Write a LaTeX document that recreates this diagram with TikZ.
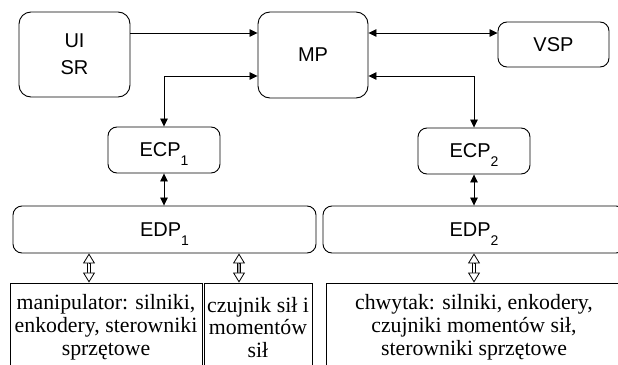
\documentclass[tikz,border=0pt]{standalone}
\usepackage{fontspec}
\setmainfont{Liberation Serif}
\setsansfont{Liberation Sans}
\usetikzlibrary{arrows.meta,calc}
\newcommand{\subidx}[1]{\smash{\raisebox{-9pt}{\fontsize{14}{14}\selectfont #1}}}
\begin{document}
\begin{tikzpicture}[x=1pt,y=-1pt,
  box/.style={draw, line width=0.9pt, rounded corners=9pt, inner sep=0pt,
    font=\sffamily\fontsize{20}{27}\selectfont, align=center},
  hwbox/.style={draw, line width=0.9pt, inner sep=0pt,
    font=\rmfamily\fontsize{21.8}{22.8}\selectfont, align=center},
  link/.style={line width=0.8pt, -{Triangle[length=8pt,width=7.5pt]}},
  blink/.style={line width=0.8pt, {Triangle[length=8pt,width=7.5pt]}-{Triangle[length=8pt,width=7.5pt]}},
  shaft/.style={double, double distance=2.8pt, line width=0.8pt, shorten <=9.5pt, shorten >=9.5pt},
  opentip/.style={line width=0.8pt, -{Triangle[open,length=10pt,width=12pt,fill=white]}}
]
\useasboundingbox (0,0) rectangle (618,364);
\clip (0,0) rectangle (618,364);

\node[box, rounded corners=12pt, minimum width=111pt, minimum height=85pt] (ui) at (74.5,54.5) {UI\\SR};
\node[box, rounded corners=12pt, minimum width=110pt, minimum height=86pt] (mp) at (313,55) {MP};
\node[box, minimum width=111pt, minimum height=45pt] (vsp) at (553.5,44.5) {VSP};
\node[box, minimum width=112pt, minimum height=46pt] (ecp1) at (164,150) {ECP\subidx{1}};
\node[box, minimum width=112pt, minimum height=46pt] (ecp2) at (474,151) {ECP\subidx{2}};
\node[box, minimum width=303pt, minimum height=47pt] (edp1) at (164.5,229.5) {EDP\subidx{1}};
\node[box, minimum width=302pt, minimum height=47pt] (edp2) at (474,229.5) {EDP\subidx{2}};

\node[hwbox, minimum width=192pt, minimum height=89pt] (man) at (106,327.5) {manipulator: silniki,\\enkodery, sterowniki\\sprzętowe};
\node[hwbox, minimum width=108pt, minimum height=89pt] (fts) at (258,327.5) {czujnik sił i\\momentów\\sił};
\node[hwbox, minimum width=296pt, minimum height=89pt] (grip) at (474,327.5) {chwytak: silniki, enkodery,\\czujniki momentów sił,\\sterowniki sprzętowe};

\coordinate (r1) at (0,33);
\coordinate (r2) at (0,76);
\coordinate (c1) at (89,0);
\coordinate (c2) at (239,0);
\coordinate (c3) at (474,0);

\draw[link] (ui.east |- r1) -- (mp.west |- r1);
\draw[blink] (mp.east |- r1) -- (vsp.west |- r1);
\draw[blink] (mp.west |- r2) -| (ecp1.north);
\draw[blink] (mp.east |- r2) -| (ecp2.north);
\draw[blink] (ecp1.south) -- (edp1.north -| ecp1.south);
\draw[blink] (ecp2.south) -- (edp2.north -| ecp2.south);

\draw[shaft] (edp1.south -| c1) -- (man.north -| c1);
\draw[opentip] ($(edp1.south -| c1)+(0,10)$) -- (edp1.south -| c1);
\draw[opentip] ($(man.north -| c1)+(0,-10)$) -- (man.north -| c1);

\draw[shaft, double=gray!70] (edp1.south -| c2) -- (fts.north -| c2);
\draw[opentip] ($(edp1.south -| c2)+(0,10)$) -- (edp1.south -| c2);
\draw[opentip] ($(fts.north -| c2)+(0,-10)$) -- (fts.north -| c2);

\draw[shaft] (edp2.south -| c3) -- (grip.north -| c3);
\draw[opentip] ($(edp2.south -| c3)+(0,10)$) -- (edp2.south -| c3);
\draw[opentip] ($(grip.north -| c3)+(0,-10)$) -- (grip.north -| c3);
\end{tikzpicture}
\end{document}
